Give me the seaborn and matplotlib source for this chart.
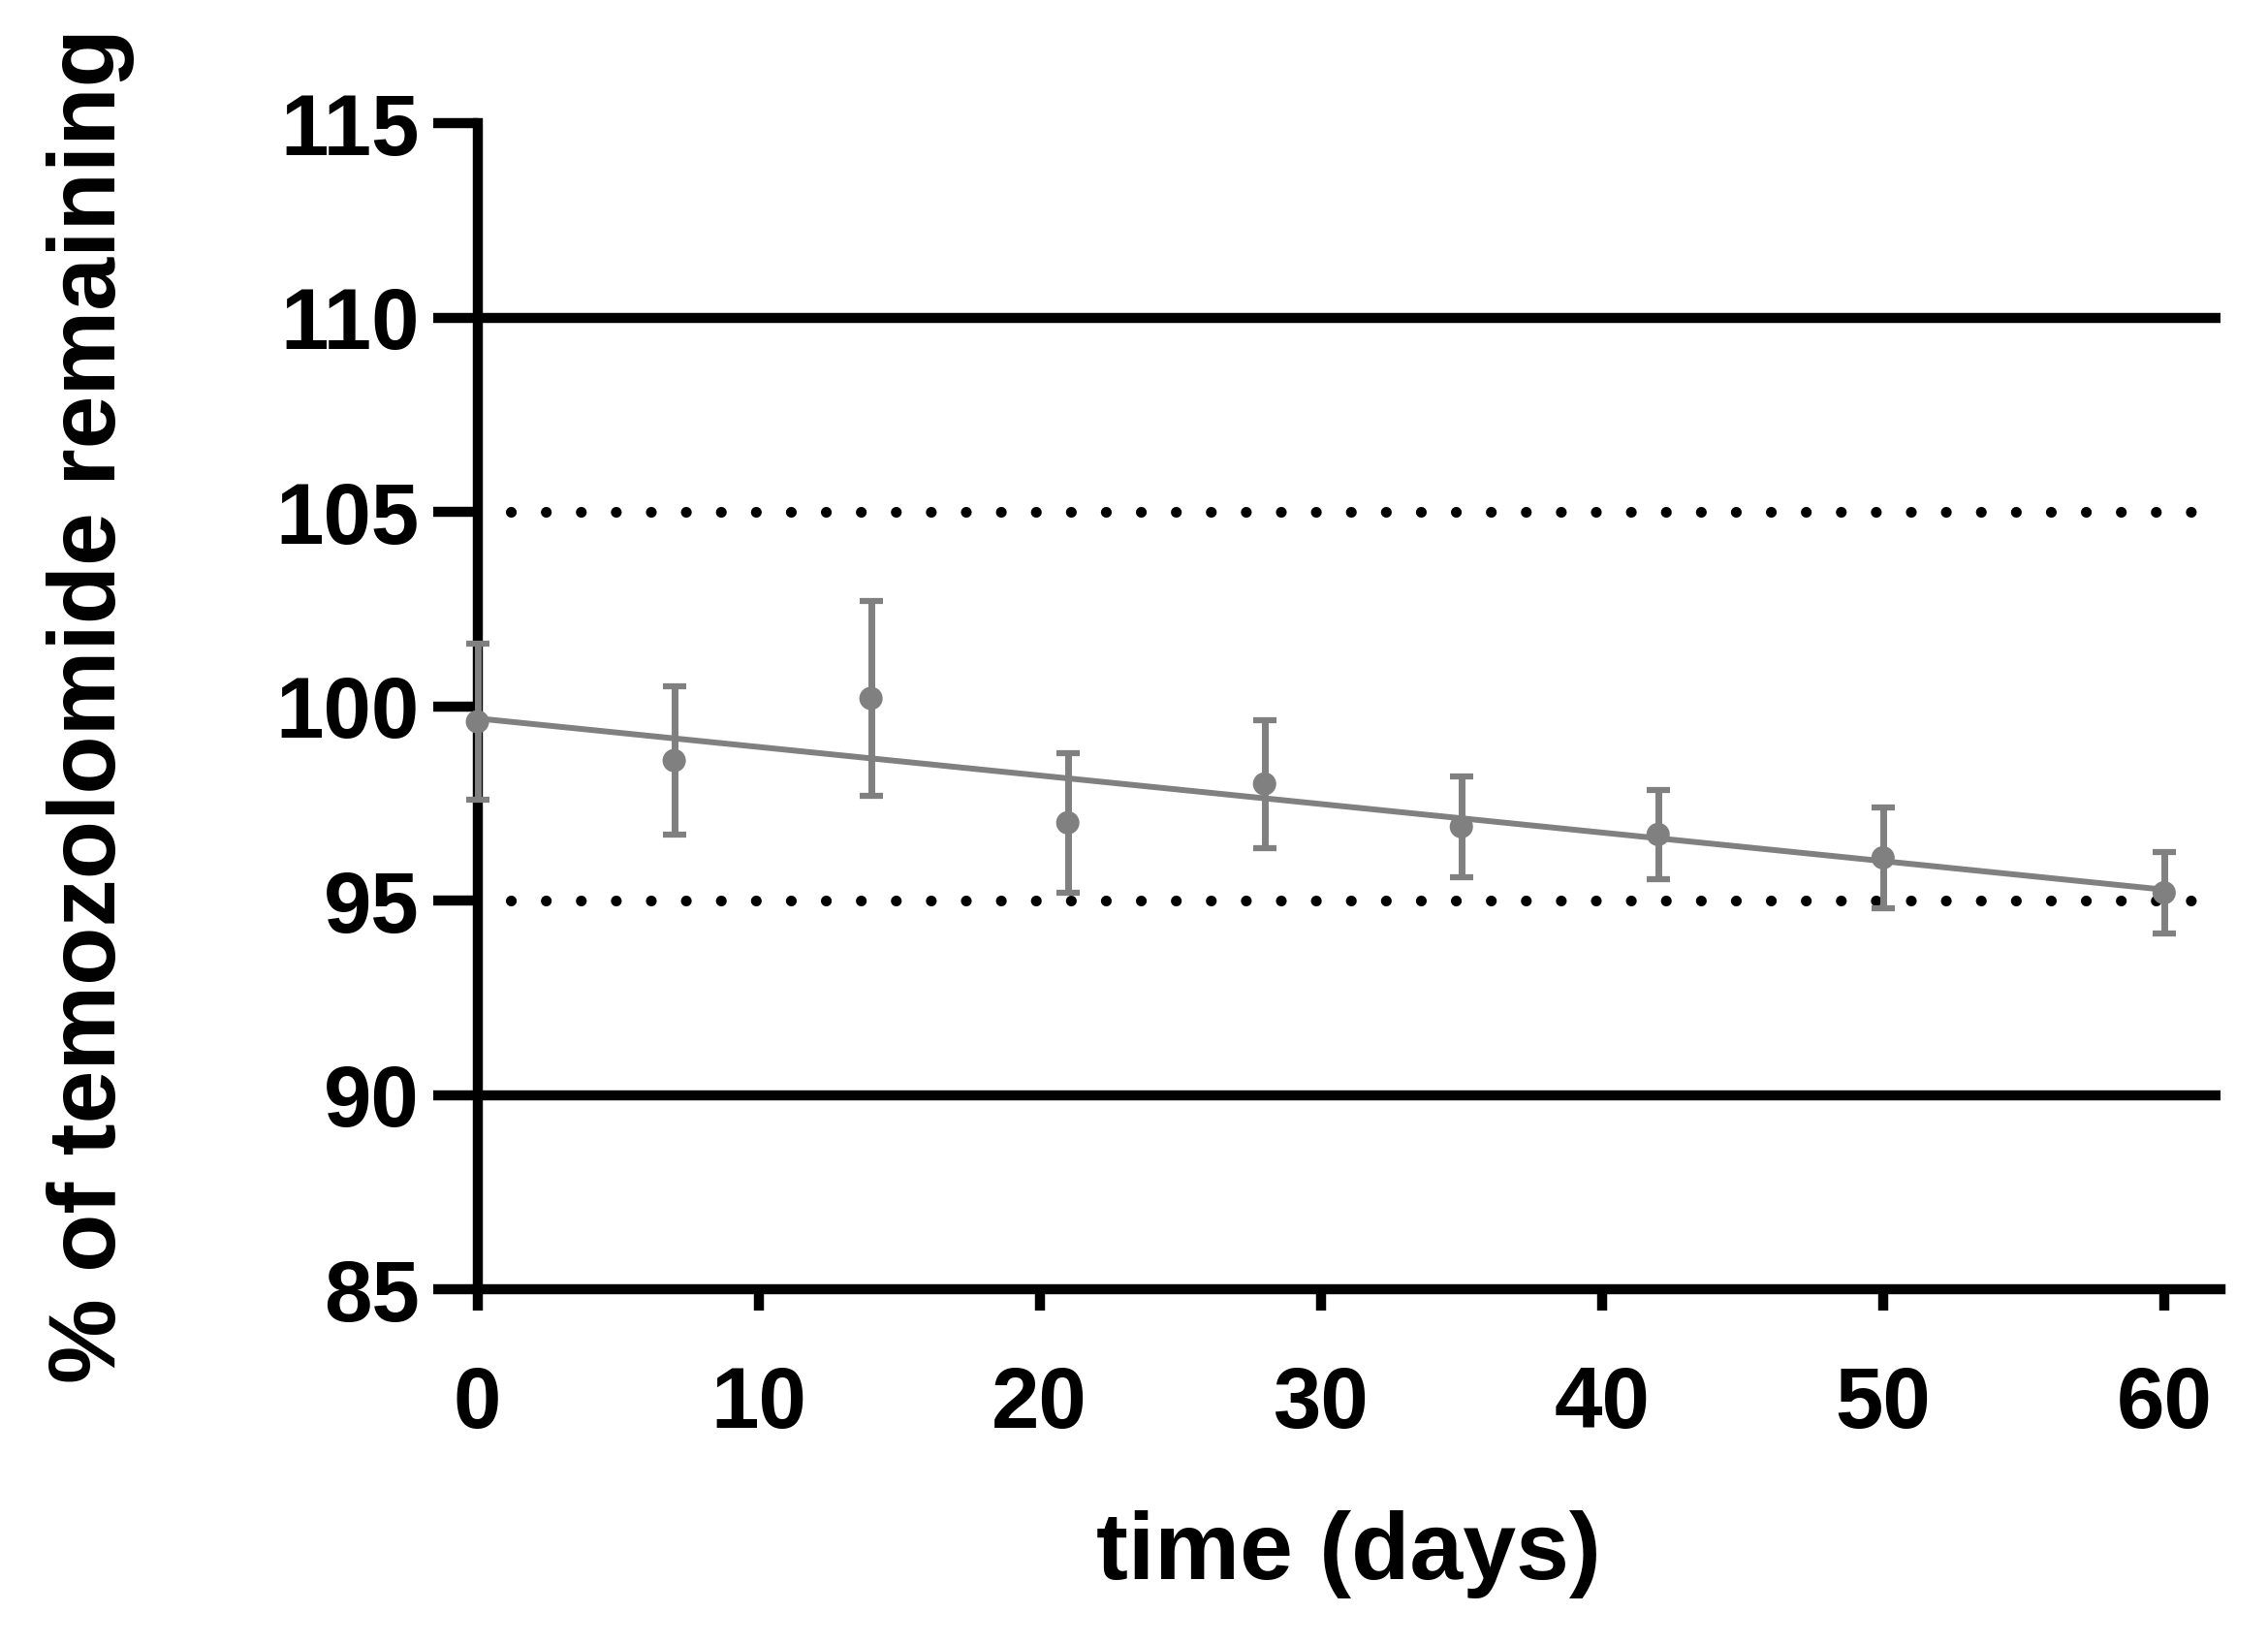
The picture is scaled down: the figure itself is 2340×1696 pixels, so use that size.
import matplotlib
matplotlib.use("Agg")
import matplotlib.pyplot as plt
import seaborn as sns
import numpy as np

# data
days = [0, 7, 14, 21, 28, 35, 42, 50, 60]
remaining = [99.6, 98.6, 100.2, 97.0, 98.0, 96.9, 96.7, 96.1, 95.2]
sd = [2.0, 1.9, 2.5, 1.8, 1.65, 1.3, 1.15, 1.3, 1.05]

x_ticks = [0, 10, 20, 30, 40, 50, 60]
y_ticks = [85, 90, 95, 100, 105, 110, 115]
limit_lines = [90, 110]
spec_lines = [95, 105]

sns.set_style("ticks")
plt.rcParams["font.family"] = ["Liberation Sans", "DejaVu Sans"]
plt.rcParams["font.weight"] = "bold"
plt.rcParams["text.color"] = "black"
plt.rcParams["axes.labelcolor"] = "black"
plt.rcParams["xtick.color"] = "black"
plt.rcParams["ytick.color"] = "black"

grey = "#808080"

fig = plt.figure(figsize=(23.4, 16.96), dpi=100)
ax = fig.add_axes([0.2105, 0.2158, 0.7685, 0.7093])

for yv in limit_lines:
    ax.axhline(yv, color="black", lw=7.5, zorder=1)
for yv in spec_lines:
    ax.hlines(yv, 1.2, 61.2, colors="black", lw=8,
              linestyles=(0, (0.01, 3.24)), capstyle="round", zorder=1)

sns.regplot(x=days, y=remaining, scatter=False, ci=None, ax=ax,
            line_kws={"color": grey, "lw": 4.3, "zorder": 3, "clip_on": False})

ax.errorbar(days, remaining, yerr=sd, fmt="none", ecolor=grey,
            elinewidth=5, capsize=8.6, capthick=4.5, zorder=4, clip_on=False)
sns.scatterplot(x=days, y=remaining, color=grey, s=300, edgecolor="none",
                ax=ax, zorder=5, clip_on=False)

ax.set_xlim(0, 62)
ax.set_ylim(85, 115)
ax.set_xticks(x_ticks)
ax.set_yticks(y_ticks)
ax.tick_params(axis="y", length=33, width=7.5, pad=10, labelsize=64,
               labelcolor="black", color="black")
ax.tick_params(axis="x", length=16, width=7.5, pad=40, labelsize=64,
               labelcolor="black", color="black")
for lab in ax.get_xticklabels() + ax.get_yticklabels():
    lab.set_fontweight("bold")

for side in ["left", "bottom"]:
    ax.spines[side].set_linewidth(7.5)
    ax.spines[side].set_color("black")
sns.despine(ax=ax)

ax.set_xlabel("time (days)", fontsize=71, fontweight="bold", labelpad=48, color="black")
ax.set_ylabel("% of temozolomide remaining", fontsize=71, fontweight="bold",
              labelpad=105, color="black")

fig.savefig("out.png", dpi=100, facecolor="white")
